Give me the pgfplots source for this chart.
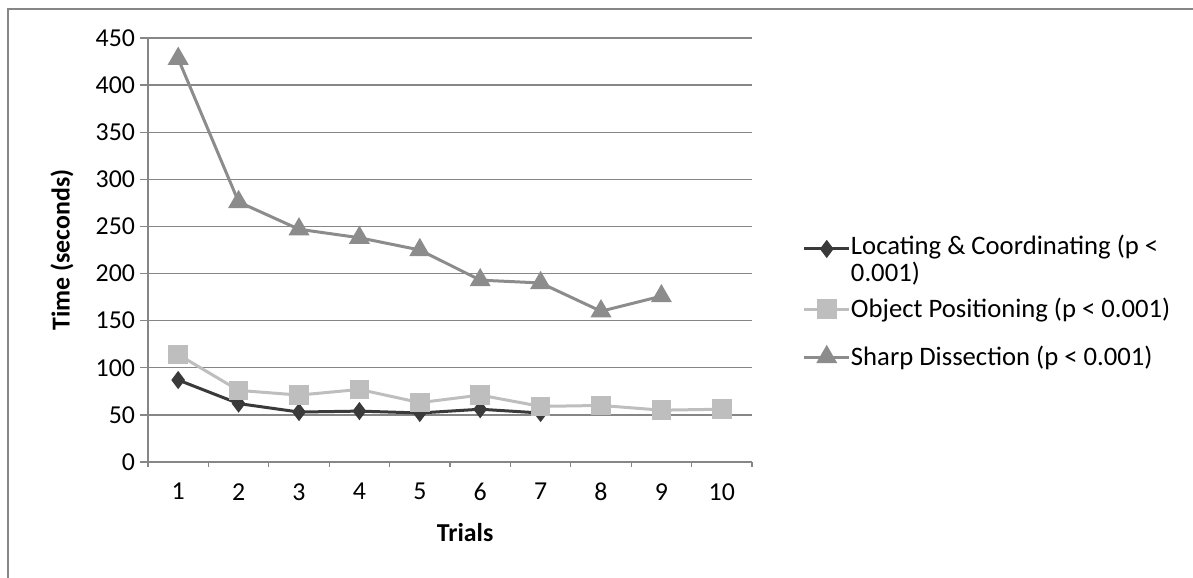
\documentclass[border=0pt]{standalone}
\usepackage{pgfplots}
\pgfplotsset{compat=1.18}
\usepackage{fontspec}
\setmainfont{Carlito}
\definecolor{axgray}{HTML}{868686}
\definecolor{locc}{HTML}{3A3A3A}
\definecolor{objc}{HTML}{BEBEBE}
\definecolor{sharpc}{HTML}{8C8C8C}
\pgfplotsset{
  base/.style={at={(88.8pt,69.6pt)}, anchor=south west,
    scale only axis, width=362.4pt, height=254.4pt,
    xmin=0.5, xmax=10.5, ymin=0, ymax=450},
  legax/.style={base, hide axis,
    legend image code/.code={\draw[mark repeat=2,mark phase=2,##1] plot coordinates {(0cm,0cm) (0.48cm,0cm) (0.96cm,0cm)};},
    legend style={at={(rel axis cs:1.083,#1)}, anchor=west, draw=none, fill=none,
      font=\fontsize{16}{15.5}\selectfont, inner sep=0pt, column sep=0pt,
      nodes={inner sep=0pt}},
    legend cell align=left},
}
\begin{document}
\begin{tikzpicture}[x=1pt,y=1pt]
\path[use as bounding box] (0,0) rectangle (715.8,346.8);
\draw[axgray, line width=1pt] (4.8,0) -- (4.8,341.4) -- (715.8,341.4);
\begin{axis}[
  base,
  axis x line*=bottom, axis y line*=left,
  axis line style={axgray, line width=0.9pt},
  xtick={0.5,1.5,...,10.5},
  x tick label as interval,
  xticklabels={1,2,3,4,5,6,7,8,9,10},
  ytick={0,50,...,450},
  tick align=outside,
  xtick style={axgray, line width=0.8pt, /pgfplots/major tick length=3pt},
  ytick style={axgray, line width=0.8pt, /pgfplots/major tick length=5pt},
  ymajorgrids,
  major grid style={axgray, line width=0.8pt},
  /pgf/number format/assume math mode=true,
  ticklabel style={font=\fontsize{15.5}{18}\selectfont, text=black},
  xticklabel style={yshift=-5pt},
  every axis y label/.style={at={(rel axis cs:-0.1424,0.5)}, rotate=90, anchor=center, font=\fontsize{15.5}{18}\selectfont\bfseries},
  every axis x label/.style={at={(rel axis cs:0.525,-0.1675)}, anchor=center, font=\fontsize{15.5}{18}\selectfont\bfseries},
  ylabel={Time (seconds)},
  xlabel={Trials},
]
\addplot[locc, line width=1.8pt, mark=diamond*, mark size=4pt, mark options={fill=locc}]
  coordinates {(1,87) (2,62) (3,53) (4,54) (5,52) (6,56) (7,52)};
\addplot[objc, line width=1.8pt, mark=square*, mark size=5pt, mark options={fill=objc}]
  coordinates {(1,114) (2,76) (3,71) (4,77) (5,63) (6,71) (7,59) (8,60) (9,55) (10,56)};
\addplot[sharpc, line width=1.8pt, mark=triangle*, mark size=5.5pt, mark options={fill=sharpc}]
  coordinates {(1,428) (2,276) (3,247) (4,238) (5,225) (6,193) (7,190) (8,160) (9,176)};
\end{axis}
\begin{axis}[legax=0.5024]
\addlegendimage{locc, line width=1.8pt, mark=diamond*, mark size=4pt, mark options={fill=locc}}
\addlegendentry{\raisebox{-4pt}[0pt][0pt]{\begin{tabular}[t]{@{}l@{}}Locating \& Coordinating (p <\\0.001)\end{tabular}}}
\end{axis}
\begin{axis}[legax=0.3608]
\addlegendimage{objc, line width=1.8pt, mark=square*, mark size=5pt, mark options={fill=objc}}
\addlegendentry{Object Positioning (p < 0.001)}
\end{axis}
\begin{axis}[legax=0.2476]
\addlegendimage{sharpc, line width=1.8pt, mark=triangle*, mark size=5.5pt, mark options={fill=sharpc}}
\addlegendentry{Sharp Dissection (p < 0.001)}
\end{axis}
\end{tikzpicture}
\end{document}
